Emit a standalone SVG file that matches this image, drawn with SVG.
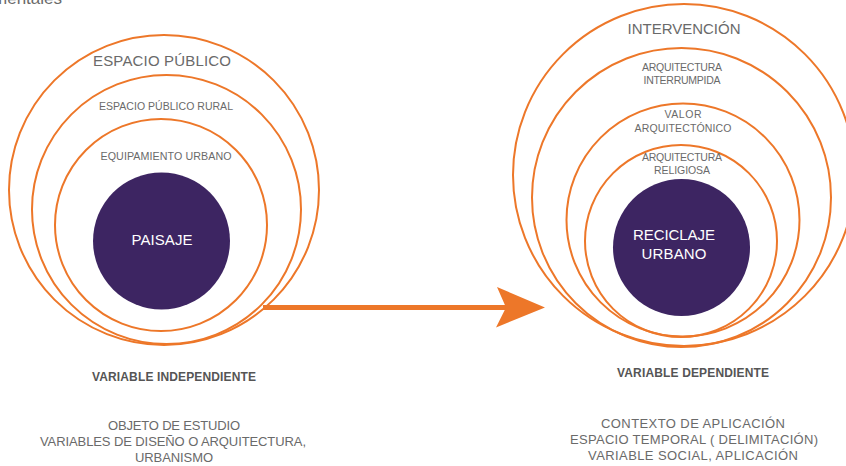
<svg xmlns="http://www.w3.org/2000/svg" width="846" height="466" viewBox="0 0 846 466">
<style>
  .ring { fill: none; stroke: #ed7729; stroke-width: 2; }
  .core { fill: #3d2562; }
  .lbl { font-family: "Liberation Sans", Arial, sans-serif; fill: #6a6a6a; text-anchor: middle; }
  .core-lbl { font-family: "Liberation Sans", Arial, sans-serif; fill: #ffffff; text-anchor: middle; font-size: 15px; }
  .head { font-family: "Liberation Sans", Arial, sans-serif; fill: #555555; text-anchor: middle; font-weight: bold; font-size: 12px; }
  .desc { font-family: "Liberation Sans", Arial, sans-serif; fill: #6a6a6a; text-anchor: middle; font-size: 13px; }
</style>
<rect width="846" height="466" fill="#ffffff"/>
<text class="lbl" x="62" y="4" font-size="17" style="text-anchor:end">mentales</text>

<g id="espacio-publico">
  <circle class="ring" cx="164" cy="190" r="155"/>
  <text class="lbl" x="162" y="66" font-size="15" textLength="138">ESPACIO PÚBLICO</text>
</g>
<g id="espacio-publico-rural">
  <circle class="ring" cx="166.5" cy="209.5" r="134.5"/>
  <text class="lbl" x="166" y="110" font-size="10.5" textLength="134">ESPACIO PÚBLICO RURAL</text>
</g>
<g id="equipamiento-urbano">
  <circle class="ring" cx="161" cy="225" r="106"/>
  <text class="lbl" x="166" y="160" font-size="10.7" textLength="131">EQUIPAMIENTO URBANO</text>
</g>
<g id="paisaje">
  <circle class="core" cx="161.5" cy="241" r="68.5"/>
  <text class="core-lbl" x="162" y="245" textLength="61">PAISAJE</text>
</g>

<g id="intervencion">
  <circle class="ring" cx="684" cy="175" r="171"/>
  <text class="lbl" x="684" y="34" font-size="15" textLength="113">INTERVENCIÓN</text>
</g>
<g id="arquitectura-interrumpida">
  <circle class="ring" cx="681.5" cy="197.5" r="149.5"/>
  <text class="lbl" x="682" y="71" font-size="10.5" textLength="80">ARQUITECTURA</text>
  <text class="lbl" x="682" y="84" font-size="10.5" textLength="77">INTERRUMPIDA</text>
</g>
<g id="valor-arquitectonico">
  <circle class="ring" cx="683" cy="220" r="116.5"/>
  <text class="lbl" x="683" y="118" font-size="10.5" textLength="37">VALOR</text>
  <text class="lbl" x="683" y="132" font-size="10.5" textLength="97">ARQUITECTÓNICO</text>
</g>
<g id="arquitectura-religiosa">
  <circle class="ring" cx="681" cy="241" r="96"/>
  <text class="lbl" x="682" y="161" font-size="10.5" textLength="80">ARQUITECTURA</text>
  <text class="lbl" x="682" y="174" font-size="10.5" textLength="56">RELIGIOSA</text>
</g>
<g id="reciclaje-urbano">
  <circle class="core" cx="681.5" cy="247.5" r="68.5"/>
  <text class="core-lbl" x="674" y="240" textLength="82">RECICLAJE</text>
  <text class="core-lbl" x="674" y="259" textLength="65">URBANO</text>
</g>

<g id="connectors">
  <line x1="263" y1="307.5" x2="508" y2="307.5" stroke="#ed7729" stroke-width="5"/>
  <polygon points="497,287 545,307.5 496,327.5 506,307.5" fill="#ed7729"/>
</g>

<g id="variable-independiente">
  <text class="head" x="174" y="381" textLength="164">VARIABLE INDEPENDIENTE</text>
  <text class="desc" x="174" y="430" textLength="132">OBJETO DE ESTUDIO</text>
  <text class="desc" x="173" y="446" textLength="266">VARIABLES DE DISEÑO O ARQUITECTURA,</text>
  <text class="desc" x="174" y="462" textLength="78">URBANISMO</text>
</g>
<g id="variable-dependiente">
  <text class="head" x="693" y="377" textLength="152">VARIABLE DEPENDIENTE</text>
  <text class="desc" x="693" y="428" textLength="184">CONTEXTO DE APLICACIÓN</text>
  <text class="desc" x="694" y="444" textLength="248">ESPACIO TEMPORAL ( DELIMITACIÓN)</text>
  <text class="desc" x="693" y="460" textLength="210">VARIABLE SOCIAL, APLICACIÓN</text>
</g>
</svg>
